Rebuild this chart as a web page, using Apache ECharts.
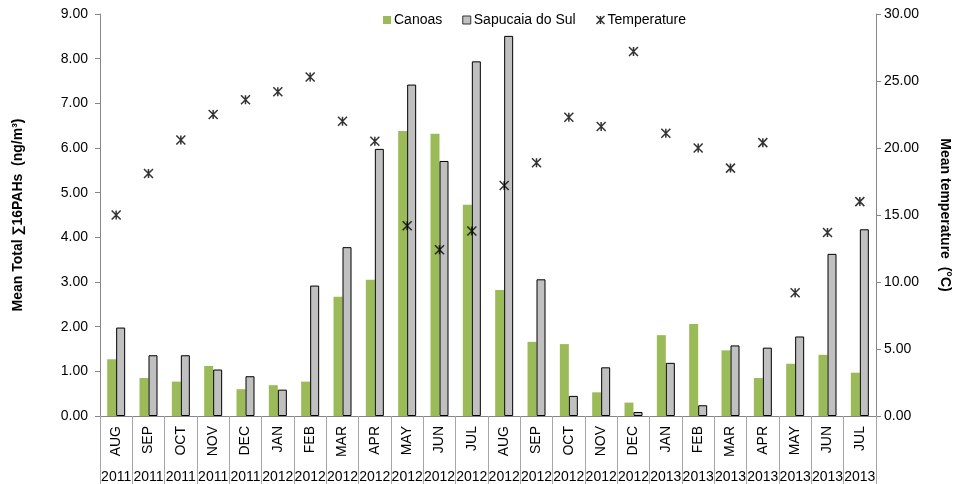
<!DOCTYPE html>
<html>
<head>
<meta charset="utf-8">
<script src="https://cdn.jsdelivr.net/npm/echarts@6/dist/echarts.min.js"></script>
<style>html,body{margin:0;padding:0;background:#fff;}#c{width:956px;height:484px;}</style>
</head>
<body>
<div id="c"></div>
<script>
var months = ['AUG','SEP','OCT','NOV','DEC','JAN','FEB','MAR','APR','MAY','JUN','JUL','AUG','SEP','OCT','NOV','DEC','JAN','FEB','MAR','APR','MAY','JUN','JUL'];
var years = ['2011','2011','2011','2011','2011','2012','2012','2012','2012','2012','2012','2012','2012','2012','2012','2012','2012','2013','2013','2013','2013','2013','2013','2013'];
var canoas = [1.27,0.85,0.77,1.12,0.60,0.69,0.77,2.67,3.05,6.38,6.32,4.73,2.82,1.66,1.61,0.53,0.30,1.81,2.06,1.47,0.85,1.17,1.37,0.97];
var sapucaia = [1.98,1.36,1.36,1.04,0.89,0.59,2.92,3.78,5.98,7.42,5.71,7.94,8.51,3.06,0.45,1.09,0.09,1.19,0.24,1.58,1.53,1.78,3.63,4.18];
var temperature = [15.0,18.1,20.6,22.5,23.6,24.2,25.3,22.0,20.5,14.2,12.4,13.8,17.2,18.9,22.3,21.6,27.2,21.1,20.0,18.5,20.4,9.2,13.7,16.0];
var leftTicks = [0,1,2,3,4,5,6,7,8,9];
var rightTicks = [0,5,10,15,20,25,30];

var FONT = "'Liberation Sans', Arial, sans-serif";
var starPath = 'path://M0,0L10,10M10,0L0,10M5,0L5,10';
var chart = echarts.init(document.getElementById('c'), null, {renderer:'canvas'});
chart.setOption({
  animation: false,
  textStyle: {fontFamily: FONT},
  legend: {
    left: 383, top: 13, padding: 0,
    itemWidth: 8, itemHeight: 8, itemGap: 20,
    textStyle: {fontSize: 14, color: '#000', fontFamily: FONT, padding: [0,0,0,-2]},
    data: [
      {name: 'Canoas', icon: 'rect'},
      {name: 'Sapucaia do Sul', icon: 'rect', itemStyle: {borderColor: '#333', borderWidth: 1}},
      {name: 'Temperature', icon: starPath, itemStyle: {color: 'transparent', borderColor: '#000', borderWidth: 1.5}}
    ]
  },
  grid: {left: 100, right: 80, top: 14, bottom: 68, containLabel: false, outerBoundsMode: 'none'},
  xAxis: [
    {
      type: 'category', data: months, position: 'bottom',
      axisLine: {lineStyle: {color: '#868686'}},
      axisTick: {show: true, length: 70, interval: 0, lineStyle: {color: '#A6A6A6'}},
      axisLabel: {rotate: 90, interval: 0, margin: 10, fontSize: 14, color: '#000', fontFamily: FONT}
    },
    {
      type: 'category', data: years, position: 'bottom', offset: 52,
      axisLine: {show: false}, axisTick: {show: false},
      axisLabel: {interval: 0, margin: 2, fontSize: 14, color: '#000', fontFamily: FONT}
    }
  ],
  yAxis: [
    {
      type: 'value', min: leftTicks[0], max: leftTicks[leftTicks.length-1], interval: 1,
      name: 'Mean Total \u221116PAHs  (ng/m\u00b3)', nameLocation: 'middle', nameGap: 75, nameRotate: 90,
      nameTextStyle: {fontSize: 14, fontWeight: 'bold', color: '#000', fontFamily: FONT},
      axisLine: {show: true, lineStyle: {color: '#868686'}},
      axisTick: {show: true, length: 5, lineStyle: {color: '#868686'}},
      splitLine: {show: false},
      axisLabel: {fontSize: 14, color: '#000', margin: 12, formatter: function(v){return v.toFixed(2);}, fontFamily: FONT}
    },
    {
      type: 'value', min: rightTicks[0], max: rightTicks[rightTicks.length-1], interval: 5, position: 'right',
      name: 'Mean temperature  (\u00b0C)', nameLocation: 'middle', nameGap: 62, nameRotate: -90,
      nameTextStyle: {fontSize: 14, fontWeight: 'bold', color: '#000', fontFamily: FONT},
      axisLine: {show: true, lineStyle: {color: '#868686'}},
      axisTick: {show: true, length: 5, lineStyle: {color: '#868686'}},
      splitLine: {show: false},
      axisLabel: {fontSize: 14, color: '#000', margin: 8, formatter: function(v){return v.toFixed(2);}, fontFamily: FONT}
    }
  ],
  series: [
    {
      name: 'Canoas', type: 'bar', data: canoas, barWidth: 9, barGap: '0%',
      itemStyle: {color: '#9BBB59'}
    },
    {
      name: 'Sapucaia do Sul', type: 'bar', data: sapucaia, barWidth: 9, barGap: '0%',
      itemStyle: {color: '#C0C0C0', borderColor: '#000', borderWidth: 1}
    },
    {
      name: 'Temperature', type: 'scatter', yAxisIndex: 1, data: temperature,
      symbol: starPath, symbolSize: 9,
      itemStyle: {color: 'transparent', borderColor: '#000', borderWidth: 1.5}
    }
  ]
});
</script>
</body>
</html>
